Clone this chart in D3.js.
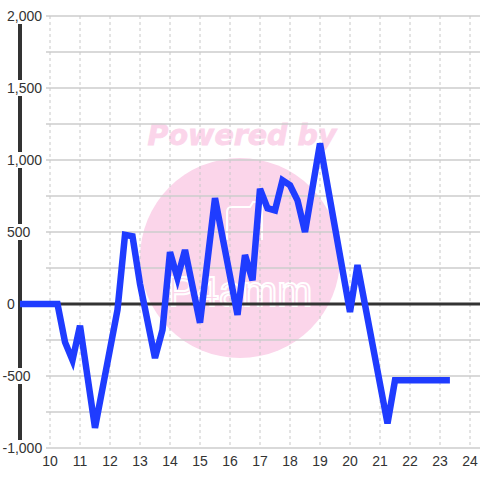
<!DOCTYPE html>
<html>
<head>
<meta charset="utf-8">
<script src="https://cdn.jsdelivr.net/npm/d3@7"></script>
<style>
  html, body { margin: 0; padding: 0; background: #fff; }
  svg { display: block; font-family: "Liberation Sans", Arial, sans-serif; }
</style>
</head>
<body>
<svg id="chart" width="480" height="480"></svg>
<script>
// values
var xValues = [9, 10.25, 10.5, 10.75, 11, 11.5, 12.25, 12.5, 12.75, 13, 13.5, 13.75, 14, 14.25, 14.5, 15,
               15.5, 16.25, 16.5, 16.75, 17, 17.25, 17.5, 17.75, 18, 18.25, 18.5, 19, 20, 20.25, 21.25, 21.5, 23.33];
var yValues = [0, 0, -265, -390, -150, -860, -40, 480, 470, 140, -375, -180, 360, 180, 375, -130,
               735, -75, 340, 165, 800, 665, 650, 860, 825, 720, 500, 1115, -55, 270, -830, -530, -530];

var xTicks = [10, 11, 12, 13, 14, 15, 16, 17, 18, 19, 20, 21, 22, 23, 24];
var yGrid = [-1000, -750, -500, -250, 0, 250, 500, 750, 1000, 1250, 1500, 1750, 2000];
var yLabels = [-1000, -500, 0, 500, 1000, 1500, 2000];

var svg = d3.select("#chart");

var x = d3.scaleLinear().domain([9, 24.3333]).range([20, 480]);
var y = d3.scaleLinear().domain([-1000, 2000]).range([448, 16]);

var pink = "#fbd5ea";

// watermark (behind the grid)
var wm = svg.append("g");
wm.append("circle").attr("cx", 240).attr("cy", 258).attr("r", 100).attr("fill", pink);
wm.append("text")
	.attr("x", 242).attr("y", 145)
	.attr("text-anchor", "middle")
	.style("font-family", "'DejaVu Sans', Verdana, sans-serif")
	.style("font-size", "28.5px").style("font-weight", "bold").style("font-style", "italic")
	.attr("fill", pink)
	.attr("stroke", pink).attr("stroke-width", 0.8)
	.text("Powered by");
wm.append("path")
	.attr("d", "M227,240 L227,212 Q227,207 232,207 L250,207 L253,202 L262,202 L262,240")
	.attr("fill", "none").attr("stroke", "#fff").attr("stroke-width", 2);
wm.append("text")
	.attr("x", 240).attr("y", 306)
	.attr("text-anchor", "middle")
	.style("font-size", "42px")
	.attr("fill", "none").attr("stroke", "#fff").attr("stroke-width", 2)
	.text("P4amm");

// horizontal grid
svg.append("g").selectAll("line")
	.data(yGrid)
	.enter()
	.append("line")
	.attr("x1", 46).attr("x2", 480)
	.attr("y1", d => y(d)).attr("y2", d => y(d))
	.style("stroke", "#cccccc").style("stroke-width", 1.5);

// vertical dashed grid
svg.append("g").selectAll("line")
	.data(xTicks)
	.enter()
	.append("line")
	.attr("x1", d => x(d)).attr("x2", d => x(d))
	.attr("y1", y(2000)).attr("y2", y(-1000))
	.style("stroke", "#c8c8c8").style("stroke-width", 1)
	.style("stroke-dasharray", "3,3");

// zero line
svg.append("line")
	.attr("x1", 20).attr("x2", 480)
	.attr("y1", y(0)).attr("y2", y(0))
	.style("stroke", "#333").style("stroke-width", 3);

// y axis line
svg.append("line")
	.attr("x1", 20).attr("x2", 20)
	.attr("y1", y(2000)).attr("y2", y(-1000))
	.style("stroke", "#333").style("stroke-width", 4);

// y labels with background boxes that cut the axis line
var fmt = d3.format(",");
var yl = svg.append("g").selectAll("g")
	.data(yLabels)
	.enter()
	.append("g");
var ylText = yl.append("text")
	.attr("x", d => d < 0 ? 2.5 : 7)
	.attr("y", d => y(d) + 5)
	.style("font-size", "14px")
	.attr("fill", "#333")
	.text(d => fmt(d).replace("−", "-"));
ylText.each(function(d) {
	var b = this.getBBox();
	d3.select(this.parentNode).insert("rect", "text")
		.attr("x", b.x - 1).attr("y", b.y)
		.attr("width", b.width + 2).attr("height", b.height)
		.attr("fill", "#fff");
});

// x labels
svg.append("g").selectAll("text")
	.data(xTicks)
	.enter()
	.append("text")
	.attr("x", d => x(d))
	.attr("y", 466)
	.attr("text-anchor", "middle")
	.style("font-size", "14px")
	.attr("fill", "#333")
	.text(d => d);

// the series
var pts = xValues.map((v, i) => [v, yValues[i]]);
var line = d3.line().x(d => x(d[0])).y(d => y(d[1]));
svg.append("path")
	.datum(pts)
	.attr("d", line)
	.attr("fill", "none")
	.style("stroke", "#1f3cff")
	.style("stroke-width", 6.5)
	.style("stroke-linejoin", "miter");
</script>
</body>
</html>
